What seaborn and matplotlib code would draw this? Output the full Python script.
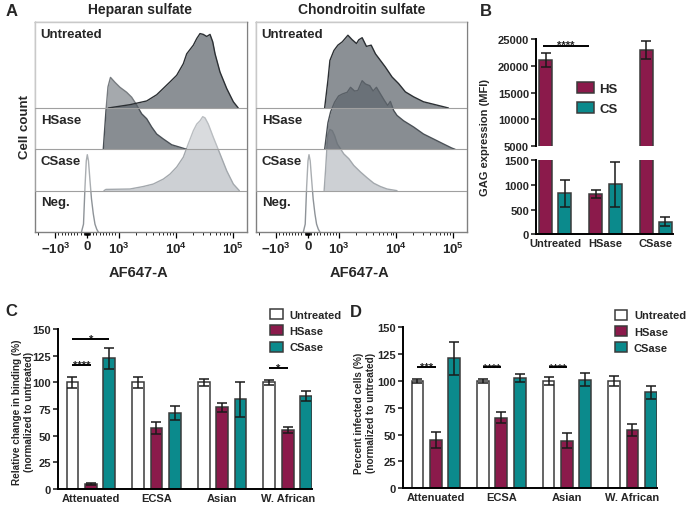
import numpy as np
import pandas as pd
import matplotlib
matplotlib.use('Agg')
import matplotlib.pyplot as plt
from matplotlib.ticker import NullFormatter
import seaborn as sns

# ---------------------- Data ---------------------- #

# Panel A: flow cytometry histograms, AF647-A intensity vs cell count
# (counts scaled so that one stacked row = 100)
hep_untreated_x = [672, 1580, 3100, 4640, 7940, 10400, 13600, 15600, 20400, 23400,
                   26700, 30500, 35000, 40000, 44600, 49000, 59800, 78500, 102500, 125000]
hep_untreated_y = [0, 8, 17, 32, 63, 79, 107, 131, 152, 168,
                   180, 178, 173, 178, 160, 131, 87, 47, 15, 0]
hep_hsase_x = [514, 600, 663, 742, 883, 1054, 1380, 1690, 2010, 2530, 3100, 3790,
               4640, 6070, 8510, 11900, 15600]
hep_hsase_y = [0, 94, 151, 174, 162, 150, 138, 126, 110, 86, 74, 54, 37, 25, 11, 5, 0]
hep_csase_x = [536, 600, 1580, 2700, 4050, 6070, 7940, 10400, 13600, 16600, 20400,
               23400, 26700, 29800, 32700, 37300, 45700, 59800, 78500, 102500, 130600]
hep_csase_y = [0, 3, 4, 10, 16, 28, 40, 57, 81, 113, 145, 161, 169, 179, 176, 161,
               129, 89, 48, 16, 0]
hep_neg_x = [-174, -110, -63, -22, 10, 47, 95, 142, 199, 252, 306, 357]
hep_neg_y = [0, 19, 109, 172, 187, 172, 124, 80, 44, 19, 7, 0]

chon_untreated_x = [536, 640, 703, 830, 956, 1130, 1420, 1690, 2010, 2210, 2530, 3010,
                    3650, 4340, 5310, 6490, 8510, 11100, 14600, 20400, 30500, 45700,
                    64100, 83800]
chon_untreated_y = [0, 67, 115, 139, 152, 160, 176, 165, 156, 165, 170, 149, 152, 131,
                    115, 99, 75, 59, 39, 27, 15, 9, 4, 0]
chon_hsase_x = [536, 640, 726, 852, 978, 1140, 1380, 1580, 1860, 2120, 2530, 2900, 3440,
                3950, 4520, 5310, 6240, 7130, 7940, 9080, 10400, 13600, 20400, 30500,
                45700, 68400, 96200, 110000]
chon_hsase_y = [0, 64, 91, 114, 129, 134, 138, 150, 141, 142, 166, 158, 154, 141, 150,
                134, 118, 106, 116, 94, 82, 69, 54, 37, 25, 13, 3, 0]
chon_csase_x = [520, 568, 609, 640, 703, 779, 852, 937, 1054, 1200, 1480, 1800, 2370,
                3100, 4050, 5310, 6950, 10400]
chon_csase_y = [0, 53, 105, 135, 148, 145, 133, 113, 101, 89, 77, 61, 45, 31, 18, 10, 4, 0]
chon_neg_x = [-140, -80, -35, 8, 40, 78, 126, 172, 228, 280, 334, 385]
chon_neg_y = [0, 19, 109, 172, 187, 172, 124, 80, 44, 19, 7, 0]

row_labels = ['Neg.', 'CSase', 'HSase', 'Untreated']
af_ticks = [-1000, 0, 1000, 10000, 100000]
af_tick_labels = ['$-10^3$', '0', '$10^3$', '$10^4$', '$10^5$']

# Panel B: GAG expression (MFI)
gag_treatments = ['Untreated', 'HSase', 'CSase']
gag_types = ['HS', 'CS']
gag_hs = [21100, 817, 22900]
gag_hs_err = [1300, 85, 1700]
gag_cs = [830, 1013, 256]
gag_cs_err = [275, 450, 90]

# Panels C and D
strains = ['Attenuated', 'ECSA', 'Asian', 'W. African']
treatments = ['Untreated', 'HSase', 'CSase']

binding_untreated = [100, 100, 100, 100]
binding_untreated_err = [5, 5, 3.5, 2.5]
binding_hsase = [4.5, 57, 76.5, 55.5]
binding_hsase_err = [1, 5.5, 4, 3]
binding_csase = [122.5, 71, 84, 87]
binding_csase_err = [10, 6.5, 16.5, 4.5]

infected_untreated = [100, 100, 100, 100]
infected_untreated_err = [1.8, 2, 4, 4.3]
infected_hsase = [44.7, 65.8, 44.4, 54]
infected_hsase_err = [7.5, 5.3, 7, 5.6]
infected_csase = [121, 102.8, 101.2, 89.4]
infected_csase_err = [15, 3.4, 6.3, 6]

# ---------------------- Style ---------------------- #

W, H = 691, 506
ROW = 100
A_TOP = 508
HS_COLOR = '#8b1a4b'
CS_COLOR = '#0b8a8c'
TREAT_COLORS = {'Untreated': 'white', 'HSase': HS_COLOR, 'CSase': CS_COLOR}
GAG_COLORS = {'HS': HS_COLOR, 'CS': CS_COLOR}
HIST_STYLES = [
    dict(face='white', alpha=1.0, edge='#8e9398'),    # Neg.
    dict(face='#8a9199', alpha=0.42, edge='#a3a8ad'),  # CSase
    dict(face='#4a525a', alpha=0.66, edge='#4a5056'),  # HSase
    dict(face='#4a525a', alpha=0.64, edge='#2b2f33'),  # Untreated
]


def setup_style():
    sns.set_style('ticks')
    plt.rcParams['font.family'] = ['Liberation Sans', 'DejaVu Sans']
    plt.rcParams['font.weight'] = 'bold'
    plt.rcParams['axes.labelweight'] = 'bold'
    plt.rcParams['mathtext.default'] = 'regular'


def px_axes(fig, left, top, right, bottom):
    return fig.add_axes([left / W, 1 - bottom / H, (right - left) / W, (bottom - top) / H])


def style_prism(ax, spines=('left', 'bottom')):
    for name, sp in ax.spines.items():
        sp.set_visible(name in spines)
        sp.set_linewidth(1.4)
        sp.set_color('black')
    ax.tick_params(direction='out', length=3.5, width=1.2, labelsize=8, pad=1.5)


# ---------------------- Panel A ---------------------- #

def plot_histograms(ax, rows):
    for i, (x, y) in enumerate(rows):
        st = HIST_STYLES[i]
        base = i * ROW
        if i > 0:
            ax.axhspan(base, A_TOP, color='white', alpha=0.25, lw=0, zorder=3 * i)
        top = base + np.asarray(y, dtype=float)
        ax.fill_between(x, base, top, color=st['face'], alpha=st['alpha'], lw=0, zorder=3 * i + 1)
        ax.plot(x, top, color=st['edge'], lw=1.0, zorder=3 * i + 2)
    for i in range(1, 4):
        ax.axhline(i * ROW, color='#a0a0a0', lw=0.8, zorder=30)
    tops = [ROW, 2 * ROW, 3 * ROW, A_TOP]
    for label, t in zip(row_labels, tops):
        ax.text(0.027, t - 14, label, transform=ax.get_yaxis_transform(), ha='left',
                va='top', fontsize=9.5, fontweight='bold', zorder=40)

    ax.set_xscale('symlog', linthresh=1000, linscale=0.5)
    ax.set_xlim(-2270, 178000)
    ax.set_ylim(0, A_TOP)
    ax.set_xticks(af_ticks)
    ax.set_xticklabels(af_tick_labels)
    minor = np.concatenate([np.arange(-900, 1000, 100), np.arange(-60, 70, 10),
                            np.arange(2, 10) * 1e3, np.arange(2, 10) * 1e4, [-2000]])
    ax.set_xticks(minor, minor=True)
    ax.xaxis.set_minor_formatter(NullFormatter())
    ax.set_yticks([])
    for sp in ax.spines.values():
        sp.set_visible(True)
        sp.set_color('#808080')
        sp.set_linewidth(1.0)
    ax.tick_params(axis='x', which='major', direction='out', length=4, width=0.9,
                   labelsize=9.5, pad=2, color='black')
    ax.tick_params(axis='x', which='minor', direction='out', length=2.2, width=0.6,
                   color='black')


# ---------------------- Bar helpers ---------------------- #

def bar_centers(ax):
    bars = sorted([p for p in ax.patches if p.get_width() > 0], key=lambda p: p.get_x())
    return bars, [b.get_x() + b.get_width() / 2 for b in bars]


def add_error_bars(ax, values, errors):
    bars, xs = bar_centers(ax)
    ax.errorbar(xs, values, yerr=errors, fmt='none', ecolor='#1a1a1a', elinewidth=1.1,
                capsize=3.5, capthick=1.1, zorder=5)
    return bars, xs


def add_bracket(ax, x0, x1, y, label, text_dy):
    ax.plot([x0, x1], [y, y], color='black', lw=1.4, solid_capstyle='butt', zorder=6)
    ax.text((x0 + x1) / 2, y - text_dy, label, ha='center', va='baseline',
            fontsize=8, fontweight='bold')


# ---------------------- Panel B ---------------------- #

def plot_gag(ax_top, ax_bot):
    df = pd.DataFrame({
        'treatment': np.repeat(gag_treatments, 2),
        'glycan': np.tile(gag_types, 3),
        'value': np.column_stack([gag_hs, gag_cs]).ravel(),
    })
    errs = np.column_stack([gag_hs_err, gag_cs_err]).ravel()
    for ax, show_legend in ((ax_top, True), (ax_bot, False)):
        sns.barplot(data=df, x='treatment', y='value', hue='glycan', order=gag_treatments,
                    hue_order=gag_types, palette=GAG_COLORS, saturation=1, width=0.76,
                    gap=0.32, edgecolor='#3a3a3a', linewidth=1.1, errorbar=None,
                    legend=show_legend, ax=ax)
        add_error_bars(ax, df['value'].values, errs)
        ax.set_xlim(-0.38, 2.34)
        ax.set_xlabel('')
        ax.set_ylabel('')

    ax_top.set_ylim(5000, 25000)
    ax_top.set_yticks([5000, 10000, 15000, 20000, 25000])
    style_prism(ax_top, spines=('left',))
    ax_top.tick_params(axis='x', bottom=False, labelbottom=False)

    ax_bot.set_ylim(0, 1500)
    ax_bot.set_yticks([0, 500, 1000, 1500])
    style_prism(ax_bot)
    ax_bot.tick_params(axis='x', length=0, pad=3)

    bars, xs = bar_centers(ax_top)
    x0 = xs[0] - 0.05
    x1 = bars[2].get_x()
    add_bracket(ax_top, x0, x1, 23700, '****', 400)

    sns.move_legend(ax_top, 'upper left', bbox_to_anchor=(0.30, 0.60), title=None,
                    frameon=False, fontsize=9.5, handlelength=1.3, handleheight=0.95,
                    handletextpad=0.4, labelspacing=0.5, borderaxespad=0, borderpad=0)


# ---------------------- Panels C and D ---------------------- #

def plot_strain_bars(ax, series, series_err, brackets, legend_anchor):
    df = pd.DataFrame({
        'strain': np.repeat(strains, 3),
        'treatment': np.tile(treatments, 4),
        'value': np.column_stack(series).ravel(),
    })
    errs = np.column_stack(series_err).ravel()
    sns.barplot(data=df, x='strain', y='value', hue='treatment', order=strains,
                hue_order=treatments, palette=TREAT_COLORS, saturation=1, width=0.84,
                gap=0.36, edgecolor='#3a3a3a', linewidth=1.1, errorbar=None, ax=ax)
    bars, xs = add_error_bars(ax, df['value'].values, errs)
    ax.set_xlim(-0.5, 3.37)
    ax.set_ylim(0, 150)
    ax.set_yticks([0, 25, 50, 75, 100, 125, 150])
    ax.set_xlabel('')
    ax.set_ylabel('')
    style_prism(ax)
    ax.tick_params(axis='x', length=0, pad=3)

    for strain, t0, t1, y, label in brackets:
        i = strains.index(strain)
        x0 = xs[i * 3 + treatments.index(t0)]
        x1 = xs[i * 3 + treatments.index(t1)]
        add_bracket(ax, x0, x1, y, label, 3)

    sns.move_legend(ax, 'upper left', bbox_to_anchor=legend_anchor, title=None,
                    frameon=False, fontsize=8, handlelength=1.1, handleheight=1.0,
                    handletextpad=0.6, labelspacing=0.5, borderaxespad=0, borderpad=0)


# ---------------------- Main ---------------------- #

def main():
    setup_style()
    fig = plt.figure(figsize=(W / 100, H / 100), dpi=100)

    ax_hep = px_axes(fig, 35, 23, 247, 233)
    ax_chon = px_axes(fig, 256, 23, 467, 233)
    plot_histograms(ax_hep, [(hep_neg_x, hep_neg_y), (hep_csase_x, hep_csase_y),
                             (hep_hsase_x, hep_hsase_y), (hep_untreated_x, hep_untreated_y)])
    plot_histograms(ax_chon, [(chon_neg_x, chon_neg_y), (chon_csase_x, chon_csase_y),
                              (chon_hsase_x, chon_hsase_y), (chon_untreated_x, chon_untreated_y)])

    ax_b_top = px_axes(fig, 536, 40, 673, 147.3)
    ax_b_bot = px_axes(fig, 536, 161.3, 673, 235.3)
    plot_gag(ax_b_top, ax_b_bot)

    ax_c = px_axes(fig, 58, 330, 312, 490)
    plot_strain_bars(ax_c, [binding_untreated, binding_hsase, binding_csase],
                     [binding_untreated_err, binding_hsase_err, binding_csase_err],
                     [('Attenuated', 'Untreated', 'CSase', 140.6, '*'),
                      ('Attenuated', 'Untreated', 'HSase', 116.3, '****'),
                      ('W. African', 'Untreated', 'HSase', 113.4, '*')],
                     (0.836, 1.125))

    ax_d = px_axes(fig, 403, 328.3, 656.7, 489.3)
    plot_strain_bars(ax_d, [infected_untreated, infected_hsase, infected_csase],
                     [infected_untreated_err, infected_hsase_err, infected_csase_err],
                     [('Attenuated', 'Untreated', 'HSase', 113, '***'),
                      ('ECSA', 'Untreated', 'HSase', 112.7, '****'),
                      ('Asian', 'Untreated', 'HSase', 112.7, '****')],
                     (0.836, 1.11))

    # Figure text: titles, axis labels, panel letters
    fig.text(140.5 / W, 1 - 10 / H, 'Heparan sulfate', ha='center', va='center', fontsize=10)
    fig.text(362 / W, 1 - 10 / H, 'Chondroitin sulfate', ha='center', va='center', fontsize=10)
    fig.text(139 / W, 1 - 273 / H, 'AF647-A', ha='center', va='center', fontsize=10.5)
    fig.text(360 / W, 1 - 273 / H, 'AF647-A', ha='center', va='center', fontsize=10.5)
    fig.text(25 / W, 1 - 127 / H, 'Cell count', ha='center', va='center', rotation=90,
             fontsize=9.5)
    fig.text(485 / W, 1 - 138 / H, 'GAG expression (MFI)', ha='center', va='center',
             rotation=90, fontsize=8)
    fig.text(23 / W, 1 - 412 / H, 'Relative change in binding (%)\n(normalized to untreated)',
             ha='center', va='center', rotation=90, fontsize=7.2, linespacing=1.2,
             multialignment='center')
    fig.text(365 / W, 1 - 413 / H, 'Percent infected cells (%)\n(normalized to untreated)',
             ha='center', va='center', rotation=90, fontsize=7.2, linespacing=1.2,
             multialignment='center')
    for letter, (x, y) in {'A': (12, 12), 'B': (486, 11), 'C': (11, 312), 'D': (356, 313)}.items():
        fig.text(x / W, 1 - y / H, letter, ha='center', va='center', fontsize=12)

    fig.savefig('out.png', dpi=100)


if __name__ == '__main__':
    main()
